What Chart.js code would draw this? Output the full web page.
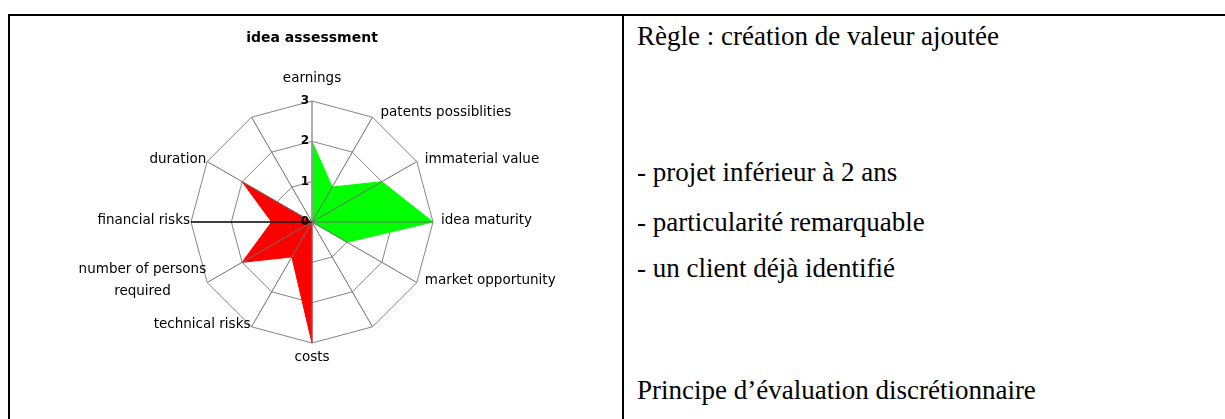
<!DOCTYPE html>
<html>
<head>
<meta charset="utf-8">
<script src="https://cdn.jsdelivr.net/npm/chart.js@4/dist/chart.umd.min.js"></script>
<style>
  body { margin: 0; background: #fff; }
  #page { position: relative; width: 1225px; height: 419px; overflow: hidden; background: #fff; }
  .rule { position: absolute; background: #000; }
  #chartBox { position: absolute; left: 10px; top: 16px; width: 612px; height: 403px; }
  .txt { position: absolute; left: 637px; font-family: "Liberation Serif", "Times New Roman", serif; font-size: 27px; line-height: 30px; color: #000; white-space: nowrap; }
</style>
</head>
<body>
<div id="page">
  <div class="rule" style="left:8px;top:14px;width:1217px;height:2px"></div>
  <div class="rule" style="left:8px;top:14px;width:2px;height:405px"></div>
  <div class="rule" style="left:622px;top:14px;width:2px;height:405px"></div>

  <div id="chartBox"><canvas id="radar" width="612" height="403"></canvas></div>

  <div class="txt" style="top:21px">Règle : création de valeur ajoutée</div>
  <div class="txt" style="top:157px">- projet inférieur à 2 ans</div>
  <div class="txt" style="top:207px">- particularité remarquable</div>
  <div class="txt" style="top:253px">- un client déjà identifié</div>
  <div class="txt" style="top:375px">Principe d’évaluation discrétionnaire</div>
</div>

<script>
// axes of the radar, clockwise from the top
const axisLabels = ['earnings', 'patents possiblities', 'immaterial value', 'idea maturity',
    'market opportunity', '', 'costs', 'technical risks', ['number of persons', 'required'],
    'financial risks', 'duration', ''];
const opportunityValues = [2, 1, 2, 3, 1, 0, 0, 0, 0, 0, 0, 0];
const riskValues = [0, 0, 0, 0, 0, 0, 3, 1, 2, 1, 2, 0];
const tickValues = [0, 1, 2, 3];

const labelFont = '13.5px "DejaVu Sans", sans-serif';

// spokes are drawn over the filled areas, like in the original
const spokesOnTop = {
    id: 'spokesOnTop',
    afterDatasetsDraw(chart) {
        const r = chart.scales.r;
        const ctx = chart.ctx;
        ctx.save();
        axisLabels.forEach((lab, i) => {
            const p = r.getPointPositionForValue(i, r.max);
            ctx.strokeStyle = i === 9 ? '#000' : (i === 0 ? '#999' : '#6e6e6e');
            ctx.lineWidth = i === 9 ? 1.3 : (i === 0 ? 1.6 : 1);
            ctx.beginPath();
            ctx.moveTo(r.xCenter, r.yCenter);
            ctx.lineTo(p.x, p.y);
            ctx.stroke();
        });

        // tick numbers, left of the top spoke
        ctx.fillStyle = '#000';
        ctx.font = 'bold 12px "DejaVu Sans", sans-serif';
        ctx.textAlign = 'right';
        ctx.textBaseline = 'middle';
        tickValues.forEach(v => {
            const p = r.getPointPositionForValue(0, v);
            ctx.fillText(String(v), p.x - 3, p.y);
        });

        // axis labels
        ctx.font = labelFont;
        axisLabels.forEach((lab, i) => {
            if (!lab) return;
            const p = r.getPointPositionForValue(i, r.max);
            const lines = Array.isArray(lab) ? lab : [lab];
            const angle = i * 360 / axisLabels.length;
            const widths = lines.map(l => ctx.measureText(l).width);
            const blockW = Math.max(...widths);
            const lineH = 22;
            let cx, cy;
            if (angle === 0) { cx = p.x; cy = p.y - 23; }
            else if (angle === 180) { cx = p.x; cy = p.y + 14; }
            else if (angle < 180) { cx = p.x + 8 + blockW / 2; cy = p.y - (angle === 30 ? 5 : 2); }
            else { cx = p.x - 1 - blockW / 2; cy = p.y - 2; }
            ctx.textAlign = 'center';
            lines.forEach((l, k) => {
                ctx.fillText(l, cx, cy + (k - (lines.length - 1) / 2) * lineH);
            });
        });
        ctx.restore();
    }
};

const config = {
    type: 'radar',
    data: {
        labels: axisLabels,
        datasets: [
            {
                label: 'opportunities',
                data: opportunityValues,
                backgroundColor: '#00ff00',
                borderColor: '#00ff00',
                borderWidth: 1,
                pointRadius: 0,
                fill: true,
            },
            {
                label: 'risks',
                data: riskValues,
                backgroundColor: '#ff0000',
                borderColor: '#ff0000',
                borderWidth: 1,
                pointRadius: 0,
                fill: true,
            },
        ]
    },
    options: {
        responsive: false,
        animation: false,
        devicePixelRatio: 1,
        layout: {
            padding: { left: 181, right: 189, top: 14, bottom: 76 }
        },
        plugins: {
            legend: { display: false },
            tooltip: { enabled: false },
            title: {
                display: true,
                text: 'idea assessment',
                color: '#000',
                font: { family: 'DejaVu Sans', size: 14, weight: 'bold', lineHeight: 1.2 },
                padding: { top: 0, bottom: 54.2 }
            }
        },
        scales: {
            r: {
                min: 0,
                max: 3,
                ticks: { display: false, stepSize: 1 },
                grid: { circular: false, color: '#858585', lineWidth: 1 },
                angleLines: { display: false },
                pointLabels: { display: false }
            }
        }
    },
    plugins: [spokesOnTop]
};

new Chart(document.getElementById('radar'), config);
</script>
</body>
</html>
